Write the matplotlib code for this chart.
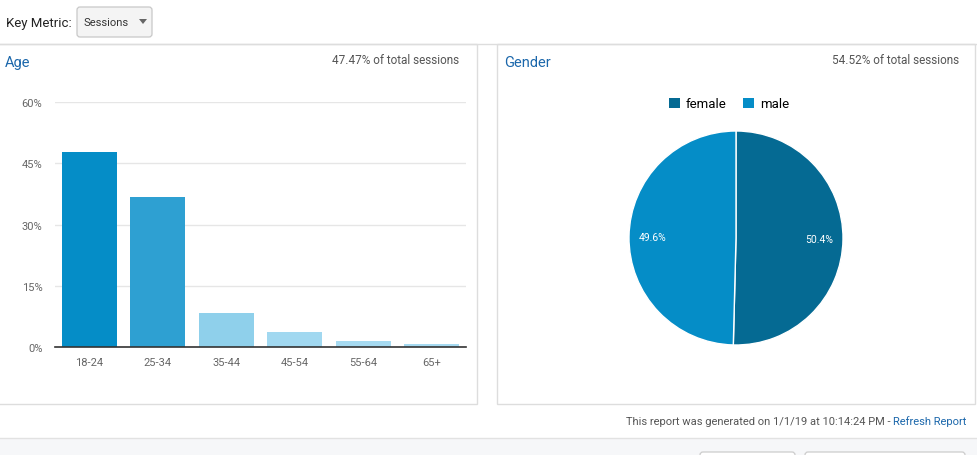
import matplotlib
matplotlib.use("Agg")
import matplotlib.pyplot as plt
from matplotlib.patches import Rectangle, FancyBboxPatch, Polygon

plt.rcParams['font.family'] = ['Roboto', 'DejaVu Sans']

# data
age_groups = ["18-24", "25-34", "35-44", "45-54", "55-64", "65+"]
age_share = [47.8, 36.7, 8.3, 3.7, 1.5, 0.8]
age_colors = ["#058dc7", "#2ea0d2", "#8fd0eb", "#a1d8f0", "#a6daf1", "#a6daf1"]
age_ticks = [0, 15, 30, 45, 60]

genders = ["female", "male"]
gender_share = [50.4, 49.6]
gender_colors = ["#056a93", "#058dc7"]

W, H = 977, 456
fig = plt.figure(figsize=(W / 100, H / 100), dpi=100)

def px_axes(left, top, width, height):
    # axes placed by pixel box (top-left origin)
    return fig.add_axes([left / W, (H - top - height) / H, width / W, height / H])

# background layer in pixel coordinates
bg = fig.add_axes([0, 0, 1, 1], zorder=-1)
bg.set_xlim(0, W)
bg.set_ylim(H, 0)
bg.axis("off")

blue = "#1b67ab"
grey_txt = "#555555"

# header
bg.text(6, 23, "Key Metric:", fontsize=9.5, color="#222222", va="center")
bg.add_patch(FancyBboxPatch((77, 8), 75, 30, boxstyle="round,pad=0,rounding_size=3",
                            fc="#f4f4f4", ec="#c8c8c8", lw=0.9))
bg.text(84, 23, "Sessions", fontsize=8, color="#333333", va="center")
bg.add_patch(Polygon([[139, 20], [147, 20], [143, 25]], closed=True, fc="#666666", ec="none"))
bg.plot([0, W], [44.5, 44.5], color="#dddddd", lw=1)

# panels
bg.add_patch(Rectangle((-2, 44.5), 478.5, 360.5, fc="white", ec="#dddddd", lw=1))
bg.add_patch(Rectangle((496.5, 44.5), 478, 360.5, fc="white", ec="#dddddd", lw=1))

bg.text(5, 63, "Age", fontsize=10.5, color=blue, va="center")
bg.text(459, 61, "47.47% of total sessions", fontsize=8.5, color=grey_txt, va="center", ha="right")
bg.text(504, 63, "Gender", fontsize=10.5, color=blue, va="center")
bg.text(959, 61, "54.52% of total sessions", fontsize=8.5, color=grey_txt, va="center", ha="right")

# footer
bg.add_patch(Rectangle((0, 439), W, 20, fc="#f6f7f9", ec="none"))
bg.plot([0, W], [439, 439], color="#e2e2e2", lw=1)
bg.add_patch(FancyBboxPatch((700, 453), 95, 20, boxstyle="round,pad=0,rounding_size=3",
                            fc="#ffffff", ec="#cccccc", lw=0.9))
bg.add_patch(FancyBboxPatch((805, 453), 160, 20, boxstyle="round,pad=0,rounding_size=3",
                            fc="#ffffff", ec="#cccccc", lw=0.9))
bg.text(966, 422, "Refresh Report", fontsize=8, color=blue, va="center", ha="right")
bg.text(891, 422, "This report was generated on 1/1/19 at 10:14:24 PM -",
        fontsize=8, color=grey_txt, va="center", ha="right")

# age bar chart
ax = px_axes(55, 103, 411, 245)
ax.set_facecolor("none")
ax.bar(range(len(age_groups)), age_share, width=0.8, color=age_colors, zorder=2)
ax.set_xlim(-0.5, len(age_groups) - 0.5)
ax.set_ylim(0, 60)
ax.set_yticks(age_ticks)
ax.set_yticklabels([f"{t}%" for t in age_ticks])
ax.set_xticks(range(len(age_groups)))
ax.set_xticklabels(age_groups)
ax.tick_params(length=0, labelsize=8, labelcolor="#666666")
ax.tick_params(axis="y", pad=9)
ax.tick_params(axis="x", pad=7)
ax.grid(axis="y", color="#e6e6e6", lw=1, zorder=0)
for s in ["top", "right", "left"]:
    ax.spines[s].set_visible(False)
ax.spines["bottom"].set_color("#333333")
ax.spines["bottom"].set_linewidth(1.2)
ax.spines["bottom"].set_zorder(3)

# gender pie
r = 107
pax = px_axes(736 - r, 239 - r, 2 * r, 2 * r)
wedges, _, autotexts = pax.pie(gender_share, colors=gender_colors, startangle=90,
                               counterclock=False, autopct="%.1f%%", pctdistance=0.78,
                               wedgeprops=dict(edgecolor="white", linewidth=1),
                               textprops=dict(color="white", fontsize=7.5))
pax.set_xlim(-1, 1)
pax.set_ylim(-1, 1)
pax.set_aspect("equal")
leg = pax.legend(wedges, genders, loc="center", ncol=2, frameon=False,
                 bbox_to_anchor=(729 / W, 1 - 105 / H), bbox_transform=fig.transFigure,
                 handlelength=0.8, handleheight=0.8, handletextpad=0.45, columnspacing=1.3,
                 fontsize=9.5)
for h in leg.legend_handles:
    h.set_edgecolor("none")

fig.savefig("out.png", dpi=100)
